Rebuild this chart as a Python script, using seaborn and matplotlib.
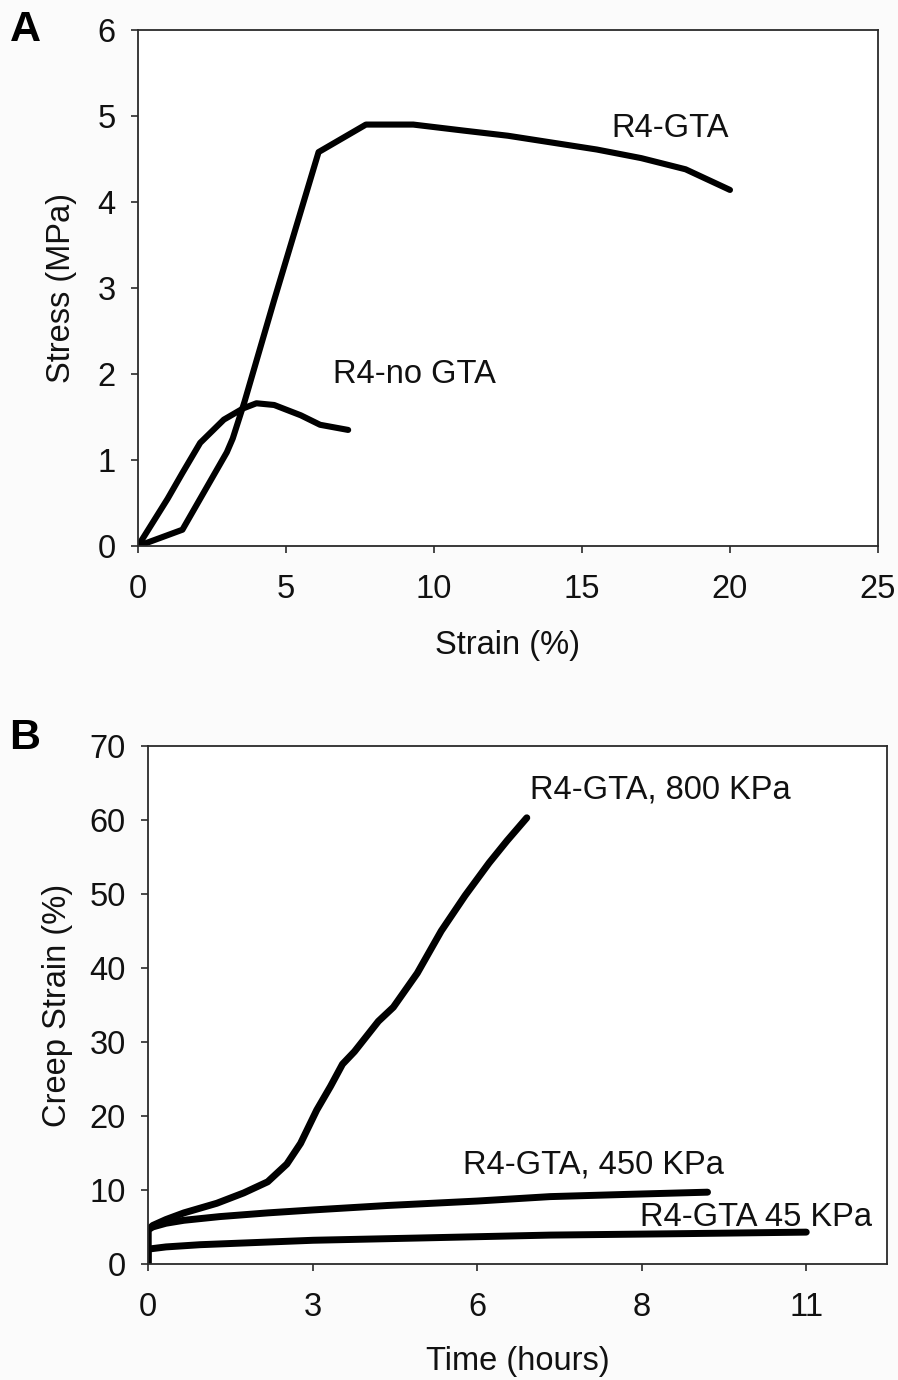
import matplotlib
matplotlib.use("Agg")
import matplotlib.pyplot as plt
import seaborn as sns
import pandas as pd

# --- Panel A: tensile stress-strain curves ---
strain_gta = [0, 1.5, 3.0, 3.2, 3.6, 4.6, 6.1, 7.7, 9.3, 11.0, 12.5, 14.0, 15.5, 17.0, 18.5, 20.0]
stress_gta = [0, 0.19, 1.09, 1.25, 1.68, 2.86, 4.58, 4.90, 4.90, 4.83, 4.77, 4.69, 4.61, 4.51, 4.38, 4.14]

strain_nogta = [0, 0.4, 1.0, 1.5, 2.1, 2.9, 3.55, 4.0, 4.6, 5.5, 6.15, 7.1]
stress_nogta = [0, 0.22, 0.55, 0.85, 1.20, 1.47, 1.60, 1.66, 1.64, 1.52, 1.41, 1.35]

# --- Panel B: creep strain over time at three loads ---
time_800 = [0, 0, 0.08, 0.3, 0.6, 1.15, 1.6, 2.0, 2.32, 2.55, 2.82, 3.05, 3.25, 3.45,
            3.85, 4.1, 4.5, 4.9, 5.3, 5.7, 6.0, 6.33]
creep_800 = [0, 4.6, 5.2, 6.0, 6.9, 8.2, 9.6, 11.1, 13.5, 16.3, 20.8, 24.0, 27.0, 28.7,
             32.8, 34.7, 39.3, 45.0, 49.8, 54.2, 57.2, 60.3]

time_450 = [0, 0, 0.08, 0.3, 0.6, 1.2, 2.0, 2.76, 4.0, 5.5, 6.72, 8.0, 9.35]
creep_450 = [0, 4.6, 5.0, 5.5, 5.9, 6.4, 6.9, 7.3, 7.9, 8.5, 9.1, 9.4, 9.7]

time_45 = [0, 0, 0.3, 0.87, 2.76, 4.5, 6.72, 9.0, 11.0]
creep_45 = [0, 2.0, 2.3, 2.6, 3.2, 3.5, 3.9, 4.1, 4.3]

time_ticks = [0, 2.75, 5.5, 8.25, 11]
time_tick_labels = ["0", "3", "6", "8", "11"]

sns.set_theme(style="white")
plt.rcParams["font.family"] = ["Liberation Sans", "DejaVu Sans"]

fig = plt.figure(figsize=(8.98, 13.8), dpi=100, facecolor="#fbfbfb")
axA = fig.add_axes([0.1537, 0.6043, 0.824, 0.374])
axB = fig.add_axes([0.1648, 0.0841, 0.823, 0.3753])

tick_fs = 23.5
label_fs = 23.5
note_fs = 23.5
spine_col = "#2a2a2a"
text_col = "#111111"


def style_axes(ax):
    ax.set_facecolor("white")
    for s in ax.spines.values():
        s.set_color(spine_col)
        s.set_linewidth(1.3)
        s.set_visible(True)
    ax.tick_params(axis="both", which="major", direction="out", length=5,
                   width=1.2, color=spine_col, labelsize=tick_fs,
                   bottom=True, left=True, top=False, right=False,
                   labelcolor=text_col)
    ax.tick_params(axis="y", pad=11)
    ax.tick_params(axis="x", pad=15)
    ax.grid(False)


# Panel A
dfA_gta = pd.DataFrame({"strain": strain_gta, "stress": stress_gta})
dfA_no = pd.DataFrame({"strain": strain_nogta, "stress": stress_nogta})
for d in (dfA_gta, dfA_no):
    sns.lineplot(data=d, x="strain", y="stress", ax=axA, color="black",
                 linewidth=4.4, estimator=None, sort=False,
                 solid_capstyle="round", solid_joinstyle="round")
axA.set_xlim(0, 25)
axA.set_ylim(0, 6)
axA.set_xticks([0, 5, 10, 15, 20, 25])
axA.set_yticks([0, 1, 2, 3, 4, 5, 6])
style_axes(axA)
axA.set_xlabel("Strain (%)", fontsize=label_fs, va="center", color=text_col)
axA.set_ylabel("Stress (MPa)", fontsize=label_fs, va="center", color=text_col)
axA.xaxis.set_label_coords(0.5, -0.192)
axA.yaxis.set_label_coords(-0.103, 0.5)
axA.text(16.0, 4.86, "R4-GTA", fontsize=note_fs, ha="left", va="center", color=text_col)
axA.text(6.6, 1.99, "R4-no GTA", fontsize=note_fs, ha="left", va="center", color=text_col)

# Panel B
for t, c in ((time_800, creep_800), (time_450, creep_450), (time_45, creep_45)):
    d = pd.DataFrame({"time": t, "creep": c})
    sns.lineplot(data=d, x="time", y="creep", ax=axB, color="black",
                 linewidth=5.0, estimator=None, sort=False,
                 solid_capstyle="round", solid_joinstyle="round")
axB.set_xlim(0, 12.35)
axB.set_ylim(0, 70)
axB.set_xticks(time_ticks)
axB.set_xticklabels(time_tick_labels)
axB.set_yticks(range(0, 71, 10))
style_axes(axB)
axB.set_xlabel("Time (hours)", fontsize=label_fs, va="center", color=text_col)
axB.set_ylabel("Creep Strain (%)", fontsize=label_fs, va="center", color=text_col)
axB.xaxis.set_label_coords(0.5, -0.189)
axB.yaxis.set_label_coords(-0.122, 0.5)
axB.text(6.39, 64.0, "R4-GTA, 800 KPa", fontsize=note_fs, ha="left", va="center", color=text_col)
axB.text(5.27, 13.4, "R4-GTA, 450 KPa", fontsize=note_fs, ha="left", va="center", color=text_col)
axB.text(8.22, 6.3, "R4-GTA 45 KPa", fontsize=note_fs, ha="left", va="center", color=text_col)

fig.text(25 / 898, 1 - 30 / 1380, "A", fontsize=31, fontweight="bold",
         ha="center", va="center", color="black")
fig.text(25 / 898, 1 - 738 / 1380, "B", fontsize=31, fontweight="bold",
         ha="center", va="center", color="black")

fig.savefig("out.png", dpi=100, facecolor=fig.get_facecolor())
